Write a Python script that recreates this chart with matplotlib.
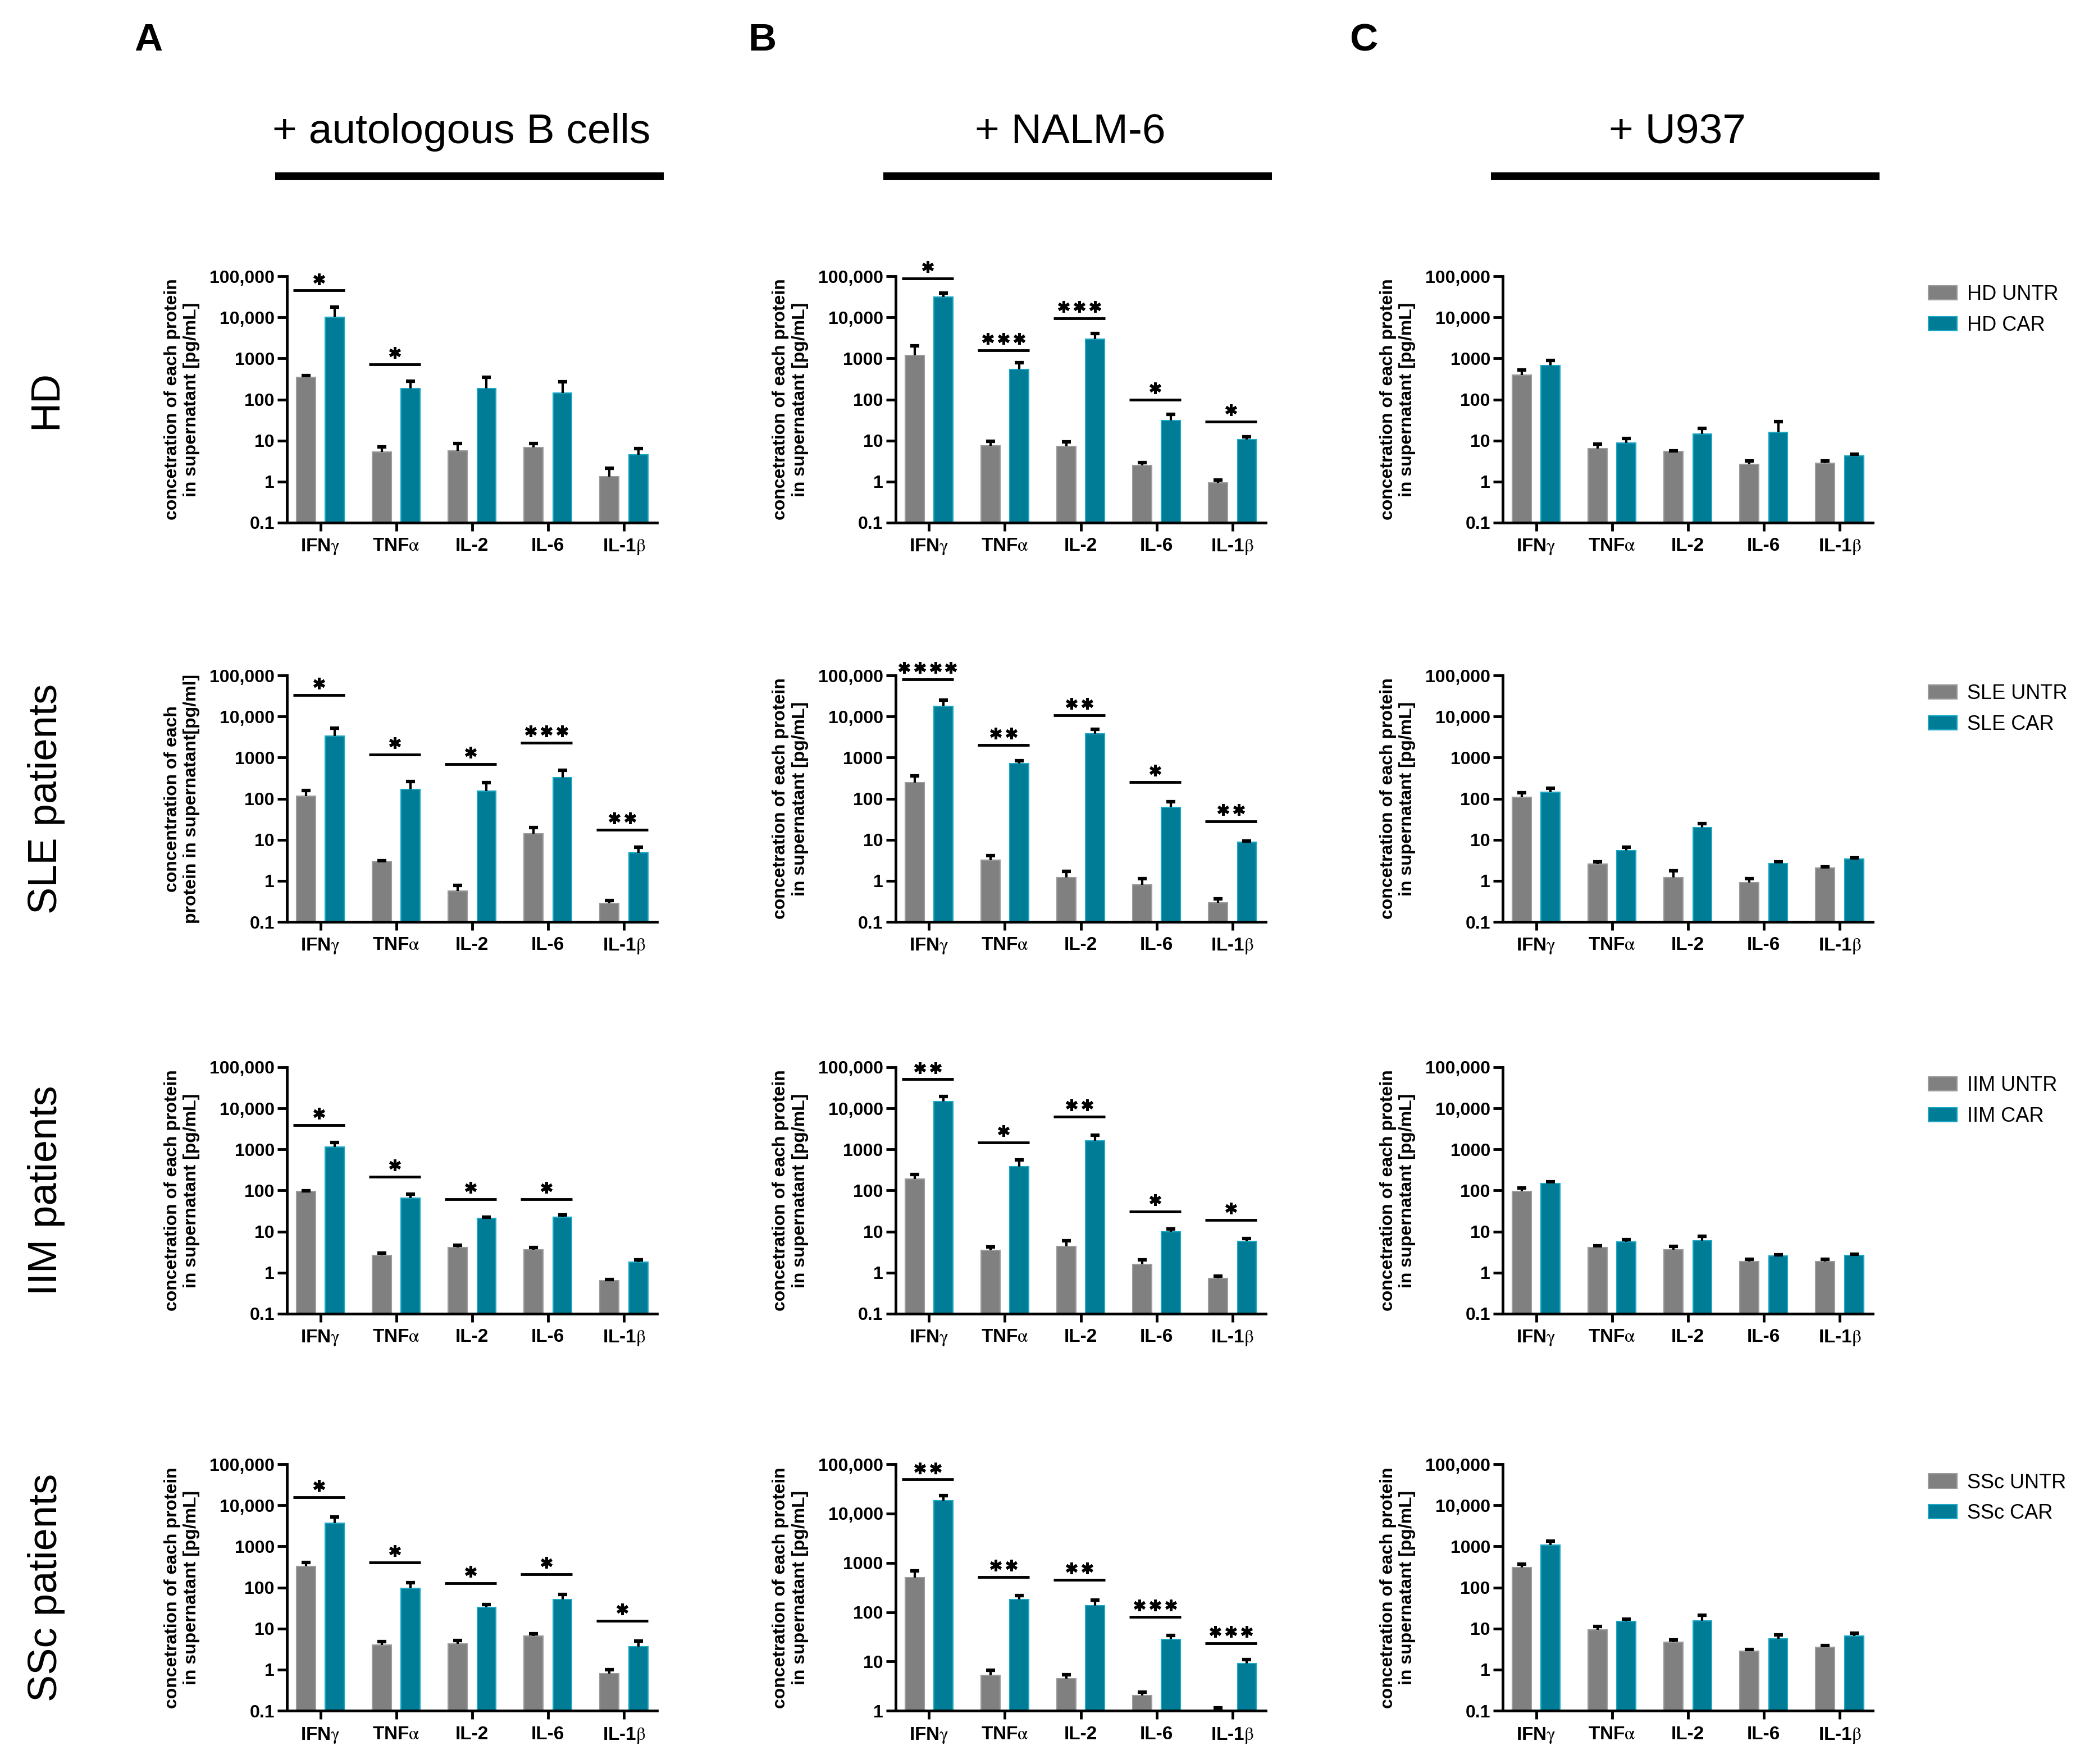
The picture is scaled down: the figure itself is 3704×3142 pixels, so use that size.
import numpy as np
import matplotlib
matplotlib.use('Agg')
import matplotlib.pyplot as plt
from matplotlib import transforms
from matplotlib.patches import Patch
from matplotlib.lines import Line2D
from matplotlib.ticker import FixedLocator, NullLocator

# Arial-like text, greek letters from stix
plt.rcParams['font.family'] = ['Liberation Sans', 'DejaVu Sans']
plt.rcParams['mathtext.fontset'] = 'stix'

GRAY = '#808080'
GRAY_EDGE = '#9c9c9c'
TEAL = '#007c96'
TEAL_EDGE = '#1aa8c6'

cytokines = [r'IFN$\mathrm{\gamma}$', r'TNF$\mathrm{\alpha}$', 'IL-2', 'IL-6', r'IL-1$\mathrm{\beta}$']
row_names = ['HD', 'SLE patients', 'IIM patients', 'SSc patients']
groups = ['HD', 'SLE', 'IIM', 'SSc']
col_titles = ['+ autologous B cells', '+ NALM-6', '+ U937']
col_letters = ['A', 'B', 'C']

# ---- A: + autologous B cells (rows HD, SLE, IIM, SSc) ----
a_untr = [[350, 5.3, 5.7, 6.7, 1.34],
          [116, 2.87, 0.56, 13.9, 0.28],
          [94, 2.62, 4.03, 3.58, 0.645],
          [326, 4.05, 4.3, 6.6, 0.8]]
a_untr_top = [[380, 7.1, 8.4, 8.4, 2.11],
              [158, 3.05, 0.785, 20, 0.336],
              [99, 2.94, 4.69, 4.07, 0.684],
              [412, 4.83, 5.12, 7.55, 0.99]]
a_car = [[10000, 187, 187, 142, 4.49],
         [3360, 166, 151, 324, 4.8],
         [1160, 64.6, 21.3, 22.6, 1.78],
         [3720, 97, 32.5, 50.8, 3.6]]
a_car_top = [[17700, 280, 342, 273, 6.3],
             [5130, 263, 245, 495, 6.5],
             [1470, 81, 22.6, 25.4, 2.07],
             [5290, 130, 38.7, 68, 5.0]]
# (cytokine index, bracket height, number of stars)
a_sig = [[(0, 45000, 1), (1, 718, 1)],
         [(0, 33600, 1), (1, 1200, 1), (2, 695, 1), (3, 2330, 3), (4, 17.3, 2)],
         [(0, 3950, 1), (1, 215, 1), (2, 61, 1), (3, 61, 1)],
         [(0, 15800, 1), (1, 407, 1), (2, 126, 1), (3, 213, 1), (4, 15.3, 1)]]

# ---- B: + NALM-6 ----
b_untr = [[1200, 7.5, 7.3, 2.5, 0.92],
          [248, 3.2, 1.19, 0.79, 0.288],
          [190, 3.44, 4.4, 1.6, 0.716],
          [504, 5.3, 4.48, 2.05, 1.02]]
b_untr_top = [[2030, 9.7, 9.4, 2.86, 1.1],
              [357, 4.1, 1.71, 1.14, 0.369],
              [241, 4.24, 6.0, 2.03, 0.824],
              [696, 6.6, 5.4, 2.37, 1.15]]
b_car = [[31200, 546, 2960, 31, 10.6],
         [17800, 706, 3840, 62, 8.7],
         [14800, 378, 1600, 9.9, 5.7],
         [18500, 180, 134, 28, 9.06]]
b_car_top = [[39000, 775, 4100, 43, 12.4],
             [25300, 848, 4890, 84, 9.4],
             [19400, 560, 2180, 11.7, 6.8],
             [23000, 215, 177, 34, 10.8]]
b_sig = [[(0, 88000, 1), (1, 1580, 3), (2, 9500, 3), (3, 100, 1), (4, 29, 1)],
         [(0, 80000, 4), (1, 2040, 2), (2, 10800, 2), (3, 251, 1), (4, 27.7, 2)],
         [(0, 50700, 2), (1, 1480, 1), (2, 6240, 2), (3, 31, 1), (4, 19, 1)],
         [(0, 48900, 2), (1, 519, 2), (2, 457, 2), (3, 80.5, 3), (4, 23.4, 3)]]

# ---- C: + U937 ----
c_untr = [[388, 6.3, 5.4, 2.6, 2.8],
          [110, 2.59, 1.21, 0.91, 2.03],
          [94, 4.14, 3.6, 1.83, 1.87],
          [306, 9.2, 4.6, 2.86, 3.55]]
c_untr_top = [[525, 8.1, 5.7, 3.16, 3.16],
              [140, 2.93, 1.75, 1.12, 2.21],
              [114, 4.49, 4.28, 2.1, 2.13],
              [375, 11.4, 5.37, 3.15, 3.85]]
c_car = [[675, 8.8, 14.6, 15.7, 4.2],
         [144, 5.4, 19.6, 2.65, 3.4],
         [147, 5.66, 6.0, 2.51, 2.66],
         [1066, 14.8, 15.3, 5.7, 6.6]]
c_car_top = [[900, 11.1, 20, 28.5, 4.6],
             [179, 6.5, 24.5, 2.89, 3.6],
             [162, 6.36, 7.57, 2.75, 2.82],
             [1350, 17.2, 21.1, 6.98, 7.67]]
c_sig = [[], [], [], []]

# lowest y value of each panel (SSc + NALM-6 starts at 1)
y_min = [[0.1, 0.1, 0.1],
         [0.1, 0.1, 0.1],
         [0.1, 0.1, 0.1],
         [0.1, 1, 0.1]]

ylab_std = 'concetration of each protein\nin supernatant [pg/mL]'
ylab_sle_a = 'concentration of each\nprotein in supernatant[pg/ml]'

tick_vals = [0.1, 1, 10, 100, 1000, 10000, 100000]
tick_txt = ['0.1', '1', '10', '100', '1000', '10,000', '100,000']

fig = plt.figure(figsize=(37.04, 31.42), dpi=100)

lefts = [0.138, 0.4306, 0.7225]
bottoms = [0.7037, 0.4774, 0.2553, 0.0302]
W, H = 0.178, 0.1397


def draw_panel(ax, untr, untr_top, car, car_top, sig, ylabel, ymin):
    x = np.arange(len(cytokines))
    untr = np.array(untr, float)
    car = np.array(car, float)
    e_u = np.array(untr_top) - untr
    e_c = np.array(car_top) - car
    zero = np.zeros_like(untr)
    ax.set_yscale('log')
    ax.bar(x - 0.19, untr, 0.25, color=GRAY, edgecolor=GRAY_EDGE, linewidth=1.5, zorder=2)
    ax.bar(x + 0.19, car, 0.25, color=TEAL, edgecolor=TEAL_EDGE, linewidth=1.5, zorder=2)
    # upper error bars only (one cap on top)
    for xs, m, e in [(x - 0.19, untr, e_u), (x + 0.19, car, e_c)]:
        ax.errorbar(xs, m, yerr=[zero, e], fmt='none', ecolor='k',
                    elinewidth=3, capsize=0, zorder=3)
        ax.plot(xs, m + e, ls='none', marker='_', ms=11, mew=4.5, color='k', zorder=3)
    ax.set_xlim(-0.44, 4.44)
    ax.set_ylim(ymin, 1e5)

    vals = [v for v in tick_vals if v >= ymin]
    txt = [t for v, t in zip(tick_vals, tick_txt) if v >= ymin]
    ax.yaxis.set_major_locator(FixedLocator(vals))
    ax.set_yticklabels(txt)
    ax.yaxis.set_minor_locator(NullLocator())
    ax.set_xticks(x)
    ax.set_xticklabels(cytokines)

    for s in ['top', 'right']:
        ax.spines[s].set_visible(False)
    for s in ['left', 'bottom']:
        ax.spines[s].set_linewidth(3.5)
    ax.tick_params(axis='y', width=3.5, length=12, labelsize=23, pad=4)
    ax.tick_params(axis='x', width=3.5, length=11, labelsize=24, pad=8)
    for lb in ax.get_xticklabels() + ax.get_yticklabels():
        lb.set_fontweight('bold')

    ax.set_ylabel(ylabel, fontsize=23, fontweight='bold', linespacing=1.2)
    ax.yaxis.set_label_coords(-0.235, 0.5)

    # significance brackets with stars
    for i, h, n in sig:
        ax.plot([i - 0.36, i + 0.32], [h, h], color='k', lw=3.5,
                solid_capstyle='butt', zorder=4, clip_on=False)
        for k in range(n):
            dx = (k - (n - 1) / 2) * 20
            tr = transforms.offset_copy(ax.transData, fig=fig, x=dx, y=15, units='points')
            ax.plot([i - 0.02], [h], marker=(6, 2, 0), ms=15, mew=3.6, color='k',
                    transform=tr, clip_on=False, zorder=4)


cols = [(a_untr, a_untr_top, a_car, a_car_top, a_sig),
        (b_untr, b_untr_top, b_car, b_car_top, b_sig),
        (c_untr, c_untr_top, c_car, c_car_top, c_sig)]

for r in range(4):
    for c in range(3):
        ax = fig.add_axes([lefts[c], bottoms[r], W, H])
        untr, untr_top, car, car_top, sig = cols[c]
        ylab = ylab_sle_a if (r == 1 and c == 0) else ylab_std
        draw_panel(ax, untr[r], untr_top[r], car[r], car_top[r], sig[r], ylab, y_min[r][c])
        if c == 2:
            handles = [Patch(facecolor=GRAY, edgecolor=GRAY_EDGE, linewidth=1.5),
                       Patch(facecolor=TEAL, edgecolor=TEAL_EDGE, linewidth=1.5)]
            ax.legend(handles, [groups[r] + ' UNTR', groups[r] + ' CAR'],
                      loc='upper left', bbox_to_anchor=(1.15, 0.965), frameon=False,
                      fontsize=26, handlelength=1.4, handleheight=0.7,
                      handletextpad=0.5, labelspacing=0.55, borderpad=0, borderaxespad=0)
    # row labels
    fig.text(0.0224, bottoms[r] + H / 2, row_names[r], rotation=90, fontsize=52,
             ha='center', va='center')

# column headers with thick bars
for c in range(3):
    x0 = lefts[c] - 0.0058
    x1 = lefts[c] + W + 0.003
    fig.add_artist(Line2D([x0, x1], [0.9, 0.9], color='k', lw=10, transform=fig.transFigure,
                          solid_capstyle='butt'))
    fig.text((x0 + x1) / 2 - 0.0038, 0.925, col_titles[c], fontsize=54, ha='center', va='center')

for x, lt in zip([0.0715, 0.3666, 0.6555], col_letters):
    fig.text(x, 0.977, lt, fontsize=50, fontweight='bold', ha='center', va='center')

fig.savefig('out.png', dpi=100, facecolor='white')
